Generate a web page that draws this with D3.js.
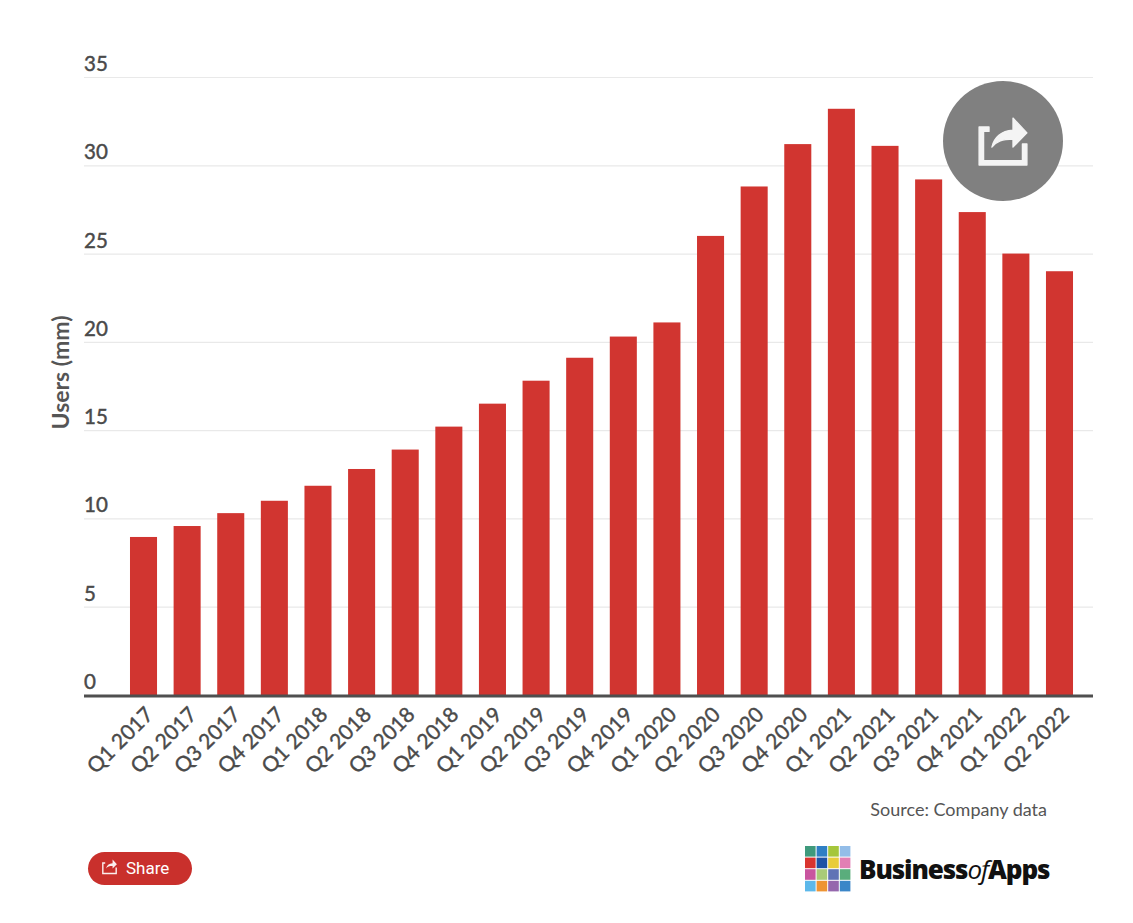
<!DOCTYPE html>
<html><head><meta charset="utf-8">
<script src="https://cdn.jsdelivr.net/npm/d3@7"></script>
<style>html,body{margin:0;padding:0;background:#fff}svg{display:block}text{font-family:Lato,sans-serif}</style>
</head><body><div id="c"></div>
<script>
const categories=["Q1 2017","Q2 2017","Q3 2017","Q4 2017","Q1 2018","Q2 2018","Q3 2018","Q4 2018","Q1 2019","Q2 2019","Q3 2019","Q4 2019","Q1 2020","Q2 2020","Q3 2020","Q4 2020","Q1 2021","Q2 2021","Q3 2021","Q4 2021","Q1 2022","Q2 2022"];
const users=[8.95,9.57,10.3,11,11.85,12.8,13.9,15.2,16.5,17.8,19.1,20.3,21.1,26,28.8,31.2,33.2,31.1,29.2,27.35,25,24];
const yTicks=[0,5,10,15,20,25,30,35];
const logoColors=["#3f9a7c","#2f7fc4","#a5c63b","#93bde8","#d9342f","#1f52a5","#e8cc3a","#e27fb4","#c9559f","#a9cb78","#5f73b5","#5aad7c","#5cb8ea","#ee9433","#9567ad","#3b86c8"];

const W=1133,H=923;
const svg=d3.select("#c").append("svg").attr("width",W).attr("height",H).attr("viewBox",[0,0,W,H]);
const y=d3.scaleLinear().domain([0,35]).range([695,77]);
const x=d3.scaleBand().domain(categories).range([121.7,1081.3]).paddingInner(0.38).paddingOuter(0.19);
const ink="#4a4a4a";

// gridlines and y tick labels
const yAxis=svg.append("g").attr("transform","translate(84,0)")
  .call(d3.axisRight(y).tickValues(yTicks).tickSize(1009).tickFormat(d3.format("d")));
yAxis.select(".domain").remove();
yAxis.selectAll(".tick line").attr("stroke","#e9e9e9").attr("stroke-width",1.2);
yAxis.selectAll(".tick text").attr("x",0).attr("dy",-6.5).attr("text-anchor","start")
  .style("font-family","Lato,sans-serif").style("font-size","20.5px").attr("fill",ink)
  .attr("stroke",ink).attr("stroke-width",0.45);

// bars
svg.append("g").selectAll("rect").data(categories).join("rect")
  .attr("x",d=>x(d)).attr("width",x.bandwidth())
  .attr("y",(d,i)=>y(users[i])).attr("height",(d,i)=>y(0)-y(users[i]))
  .attr("fill","#d13530");

// baseline and rotated x labels
const xAxis=svg.append("g").attr("transform","translate(0,696)")
  .call(d3.axisBottom(x).tickSize(0).tickPadding(0));
xAxis.select(".domain").remove();
svg.append("line").attr("x1",84).attr("x2",1093).attr("y1",696).attr("y2",696).attr("stroke","#4f4f4f").attr("stroke-width",3);
xAxis.selectAll(".tick text")
  .style("font-family","Lato,sans-serif").style("font-size","21px").attr("fill",ink)
  .attr("stroke",ink).attr("stroke-width",0.4)
  .attr("text-anchor","end").attr("y",0).attr("dy",0)
  .attr("transform","translate(11,20) rotate(-45)");

// y title
svg.append("text").attr("transform","translate(69,372.5) rotate(-90)").attr("text-anchor","middle")
  .attr("font-size",23).attr("font-weight",700).attr("fill","#555").text("Users (mm)");

// source
svg.append("text").attr("x",1047).attr("y",816).attr("text-anchor","end").attr("font-size",18).attr("fill","#555").text("Source: Company data");

// share button
const shareIcon="M-8.4-5.3H-4.9V-3.7H-6.8V6.5H6.8V0.7H8.4V8.1H-8.4Z M-3.9 1.8C-3.2-1.6-0.6-4 3.5-4.2V-8.4L8.4-3.2L3.5 1.8V-1C-0.2-1-2.2-0.4-3.9 1.8Z";
const btn=svg.append("g");
btn.append("rect").attr("x",88).attr("y",852).attr("width",104).attr("height",33).attr("rx",16.5).attr("fill","#c9302c");
btn.append("path").attr("d",shareIcon).attr("transform","translate(109.5,867) scale(0.88)").attr("fill","#fbeeee");
btn.append("text").attr("x",126).attr("y",874).attr("font-size",17).attr("fill","#fff").style("font-family","Roboto,sans-serif").text("Share");

// floating share circle
const fab=svg.append("g");
fab.append("circle").attr("cx",1003).attr("cy",141).attr("r",60).attr("fill","#808080");
fab.append("path").attr("d",shareIcon).attr("transform","translate(1003,142) scale(2.85)").attr("fill","#f4f4f4")
  .attr("stroke","#f4f4f4").attr("stroke-width",0.45).attr("stroke-linejoin","round");

// logo
const cell=10.6,gap=1;
svg.append("g").selectAll("rect").data(logoColors).join("rect")
  .attr("x",(d,i)=>805+(i%4)*(cell+gap)).attr("y",(d,i)=>846+Math.floor(i/4)*(cell+gap))
  .attr("width",cell).attr("height",cell).attr("fill",d=>d);
const lg=svg.append("text").attr("x",859).attr("y",879).attr("font-size",26).attr("fill","#111")
  .style("font-family","'Open Sans',sans-serif").attr("font-weight",800).attr("letter-spacing",-1.1);
lg.append("tspan").text("Business");
lg.append("tspan").attr("font-weight",400).attr("font-style","italic").text("of");
lg.append("tspan").text("Apps");
</script></body></html>
